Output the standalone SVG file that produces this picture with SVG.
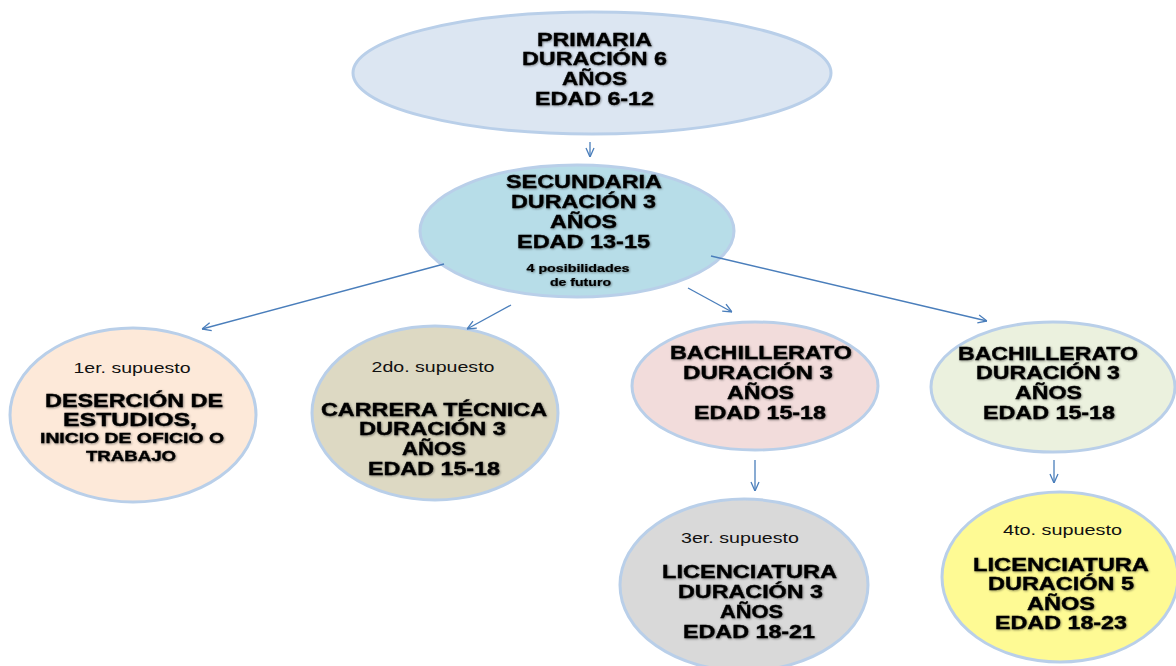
<svg xmlns="http://www.w3.org/2000/svg" width="1176" height="666" viewBox="0 0 1176 666">
<style>
.bg{fill:#ffffff}
.node ellipse{stroke:#b9cfe9;stroke-width:3}
.t{font-family:"Liberation Sans",Arial,sans-serif;font-weight:bold;fill:#000;stroke:#000;stroke-width:0.35;text-anchor:middle;filter:url(#sh)}
.big{font-size:19px}
.mid{font-size:17.5px}
.sm{font-size:14.5px}
.lab{font-family:"Liberation Sans",Arial,sans-serif;font-weight:normal;font-size:15px;fill:#111;text-anchor:middle}
.tiny{font-size:11px;stroke-width:0.2}
.conn line{stroke:#4a7ebb;stroke-width:1.3;fill:none;marker-end:url(#arr)}
</style>
<defs>
<marker id="arr" viewBox="0 0 10 10" refX="10" refY="5" markerWidth="10" markerHeight="10" markerUnits="userSpaceOnUse" orient="auto">
<path d="M1,1 L10,5 L1,9" fill="none" stroke="#4a7ebb" stroke-width="1.3"/>
</marker>
<filter id="sh" x="-10%" y="-30%" width="120%" height="160%">
<feDropShadow dx="0.8" dy="0.8" stdDeviation="0.8" flood-color="#000" flood-opacity="0.45"/>
</filter>
</defs>
<rect class="bg" x="0" y="0" width="1176" height="666"/>

<g id="primaria" class="node">
<ellipse cx="592" cy="73" rx="239" ry="61" fill="#dce6f2"/>
<text class="t big" x="594.5" y="46" textLength="115" lengthAdjust="spacingAndGlyphs">PRIMARIA</text>
<text class="t big" x="594.5" y="65" textLength="145" lengthAdjust="spacingAndGlyphs">DURACIÓN 6</text>
<text class="t big" x="594.5" y="85" textLength="65" lengthAdjust="spacingAndGlyphs">AÑOS</text>
<text class="t big" x="594.5" y="105" textLength="119" lengthAdjust="spacingAndGlyphs">EDAD 6-12</text>
</g>

<g id="secundaria" class="node">
<ellipse cx="577" cy="231" rx="157" ry="66" fill="#b7dde8"/>
<text class="t big" x="584" y="188" textLength="156" lengthAdjust="spacingAndGlyphs">SECUNDARIA</text>
<text class="t big" x="583.5" y="208" textLength="145" lengthAdjust="spacingAndGlyphs">DURACIÓN 3</text>
<text class="t big" x="583.5" y="228" textLength="67" lengthAdjust="spacingAndGlyphs">AÑOS</text>
<text class="t big" x="583.5" y="248" textLength="133" lengthAdjust="spacingAndGlyphs">EDAD 13-15</text>
<text class="t tiny" x="578" y="272" textLength="103" lengthAdjust="spacingAndGlyphs">4 posibilidades</text>
<text class="t tiny" x="580.5" y="286" textLength="61" lengthAdjust="spacingAndGlyphs">de futuro</text>
</g>

<g id="supuesto1" class="node">
<ellipse cx="133" cy="415" rx="123" ry="87" fill="#fde9d9"/>
<text class="lab" x="132" y="373" textLength="117" lengthAdjust="spacingAndGlyphs">1er. supuesto</text>
<text class="t mid" x="134" y="407" textLength="178" lengthAdjust="spacingAndGlyphs">DESERCIÓN DE</text>
<text class="t mid" x="130" y="426" textLength="134" lengthAdjust="spacingAndGlyphs">ESTUDIOS,</text>
<text class="t sm" x="132" y="443" textLength="184" lengthAdjust="spacingAndGlyphs">INICIO DE OFICIO O</text>
<text class="t sm" x="131" y="461" textLength="90" lengthAdjust="spacingAndGlyphs">TRABAJO</text>
</g>

<g id="supuesto2" class="node">
<ellipse cx="435" cy="413" rx="123" ry="87" fill="#ddd9c3"/>
<text class="lab" x="433" y="372" textLength="123" lengthAdjust="spacingAndGlyphs">2do. supuesto</text>
<text class="t mid" x="434" y="416" textLength="226" lengthAdjust="spacingAndGlyphs">CARRERA TÉCNICA</text>
<text class="t mid" x="432.5" y="435" textLength="147" lengthAdjust="spacingAndGlyphs">DURACIÓN 3</text>
<text class="t mid" x="434" y="455" textLength="64" lengthAdjust="spacingAndGlyphs">AÑOS</text>
<text class="t mid" x="434" y="475" textLength="132" lengthAdjust="spacingAndGlyphs">EDAD 15-18</text>
</g>

<g id="bachillerato1" class="node">
<ellipse cx="755" cy="386" rx="123" ry="64" fill="#f2dcdb"/>
<text class="t mid" x="761" y="359" textLength="182" lengthAdjust="spacingAndGlyphs">BACHILLERATO</text>
<text class="t mid" x="758" y="379" textLength="150" lengthAdjust="spacingAndGlyphs">DURACIÓN 3</text>
<text class="t mid" x="760.5" y="399" textLength="67" lengthAdjust="spacingAndGlyphs">AÑOS</text>
<text class="t mid" x="760" y="419" textLength="132" lengthAdjust="spacingAndGlyphs">EDAD 15-18</text>
</g>

<g id="bachillerato2" class="node">
<ellipse cx="1053" cy="387" rx="122" ry="65" fill="#ebf1de"/>
<text class="t mid" x="1048" y="360" textLength="180" lengthAdjust="spacingAndGlyphs">BACHILLERATO</text>
<text class="t mid" x="1048" y="379" textLength="144" lengthAdjust="spacingAndGlyphs">DURACIÓN 3</text>
<text class="t mid" x="1048.5" y="399" textLength="67" lengthAdjust="spacingAndGlyphs">AÑOS</text>
<text class="t mid" x="1049" y="419" textLength="132" lengthAdjust="spacingAndGlyphs">EDAD 15-18</text>
</g>

<g id="supuesto3" class="node">
<ellipse cx="744" cy="585" rx="124" ry="86" fill="#d9d9d9"/>
<text class="lab" x="740" y="543" textLength="118" lengthAdjust="spacingAndGlyphs">3er. supuesto</text>
<text class="t mid" x="749.5" y="578" textLength="175" lengthAdjust="spacingAndGlyphs">LICENCIATURA</text>
<text class="t mid" x="750.5" y="598" textLength="145" lengthAdjust="spacingAndGlyphs">DURACIÓN 3</text>
<text class="t mid" x="751.5" y="618" textLength="63" lengthAdjust="spacingAndGlyphs">AÑOS</text>
<text class="t mid" x="749" y="638" textLength="132" lengthAdjust="spacingAndGlyphs">EDAD 18-21</text>
</g>

<g id="supuesto4" class="node">
<ellipse cx="1060" cy="577" rx="118" ry="85" fill="#fefa94"/>
<text class="lab" x="1062.5" y="535" textLength="119" lengthAdjust="spacingAndGlyphs">4to. supuesto</text>
<text class="t mid" x="1061" y="571" textLength="176" lengthAdjust="spacingAndGlyphs">LICENCIATURA</text>
<text class="t mid" x="1061" y="590" textLength="146" lengthAdjust="spacingAndGlyphs">DURACIÓN 5</text>
<text class="t mid" x="1061" y="610" textLength="68" lengthAdjust="spacingAndGlyphs">AÑOS</text>
<text class="t mid" x="1061" y="629" textLength="132" lengthAdjust="spacingAndGlyphs">EDAD 18-23</text>
</g>

<g id="connectors" class="conn">
<line x1="590" y1="142" x2="590" y2="157"/>
<line x1="444" y1="264" x2="202" y2="329"/>
<line x1="511" y1="305" x2="467" y2="329"/>
<line x1="688" y1="288" x2="732" y2="312"/>
<line x1="711" y1="256" x2="987" y2="321"/>
<line x1="755" y1="460" x2="755" y2="491"/>
<line x1="1054" y1="460" x2="1054" y2="483"/>
</g>
</svg>
